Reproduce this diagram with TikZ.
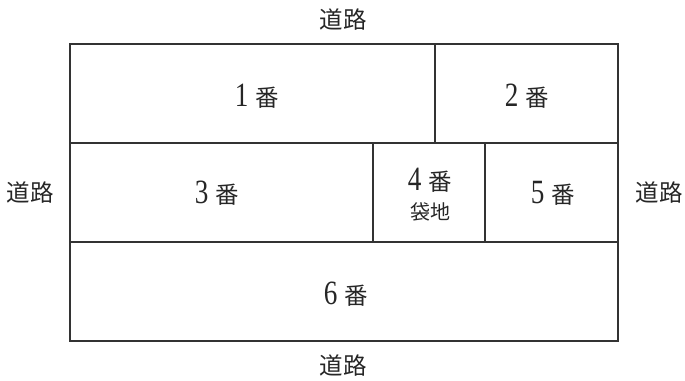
\documentclass[tikz,border=0pt]{standalone}
\usepackage{fontspec}
\newfontfamily\cjk{Noto Sans CJK JP}
\newfontfamily\digitfont{Liberation Serif}
\newcommand{\dg}[1]{\scalebox{0.8}[1]{\digitfont\fontsize{34}{34}\selectfont #1}\hspace{7pt}}
\begin{document}
\begin{tikzpicture}[x=1pt,y=-1pt,
  lot/.style={draw=black!80,line width=1.1pt},
  lbl/.style={font=\cjk\fontsize{23.5}{25}\selectfont,inner sep=0pt,text=black!85},
  small/.style={font=\cjk\fontsize{20}{21}\selectfont,inner sep=0pt,text=black!85}]
\useasboundingbox (0,0) rectangle (685,380);
\coordinate (tl) at (70,44);
\coordinate (br) at (618,341);
\draw[lot] (tl) rectangle (br);
\draw[lot] (70,143) -- (618,143);
\draw[lot] (70,242) -- (618,242);
\draw[lot] (435,44) -- (435,143);
\draw[lot] (373,143) -- (373,242);
\draw[lot] (485,143) -- (485,242);
\node[lbl] (rt) at (343,20) {道路};
\node[lbl] (rb) at (343,366) {道路};
\node[lbl] (rl) at (30,193) {道路};
\node[lbl] (rr) at (659,193) {道路};
\node[lbl] (n1) at (257,96) {\dg{1}番};
\node[lbl] (n2) at (527,96) {\dg{2}番};
\node[lbl] (n3) at (217,193) {\dg{3}番};
\node[lbl] (n4) at (430,180) {\dg{4}番};
\node[small] (f4) at (430,212) {袋地};
\node[lbl] (n5) at (553,193) {\dg{5}番};
\node[lbl] (n6) at (346,294) {\dg{6}番};
\end{tikzpicture}
\end{document}
